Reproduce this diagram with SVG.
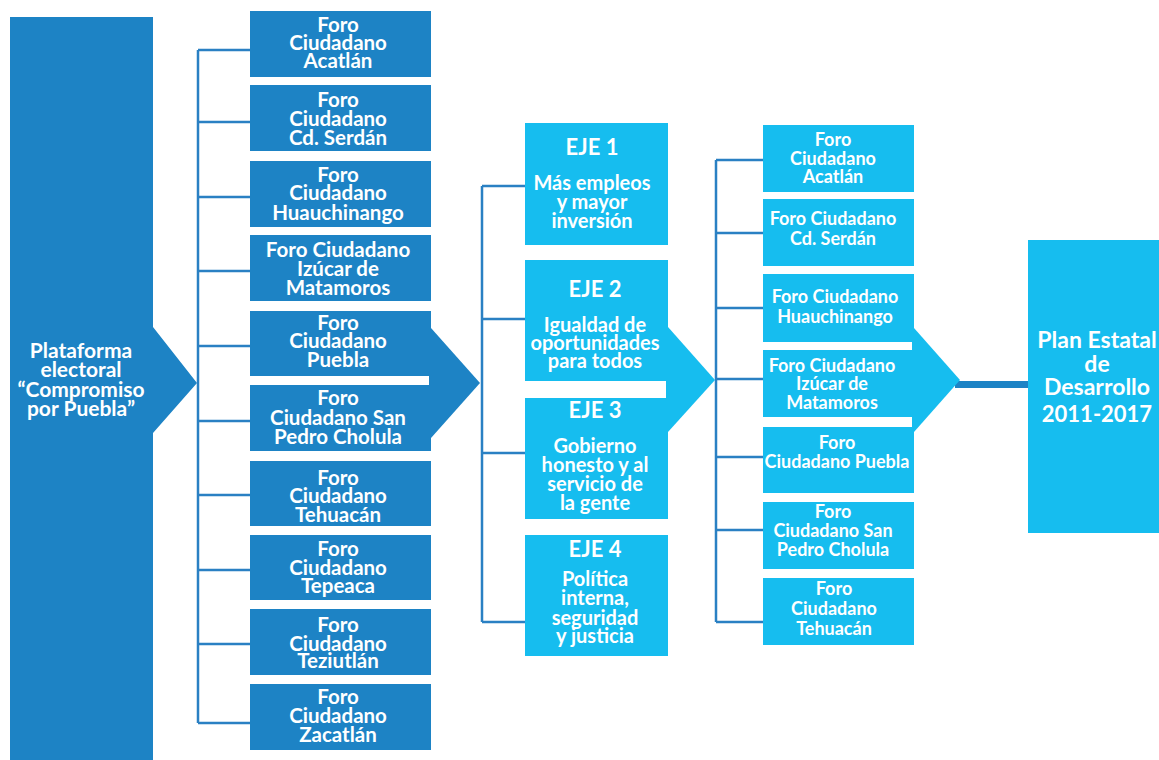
<svg xmlns="http://www.w3.org/2000/svg" width="1159" height="760" viewBox="0 0 1159 760">
<style>
.dk{fill:#1d83c5}
.lt{fill:#16bdef}
.t{font-family:Lato,"Liberation Sans",sans-serif;font-weight:bold;fill:#fff;text-anchor:middle}
.s20{font-size:20.5px}
.s21{font-size:21px}
.s18{font-size:18px}
.e20{font-size:20px}
.s22{font-size:22px}
.s23{font-size:23px}
.c{fill:none;stroke:#2a80c3;stroke-width:2.5}
</style>
<rect width="1159" height="760" fill="#fff"/>
<g id="connectors">
<path class="c" d="M198,50V723M198,50H250M198,122H250M198,197H250M198,271H250M198,346H250M198,421H250M198,495H250M198,570H250M198,644H250M198,723H250"/>
<path class="c" d="M482,186V622M482,186H525M482,319H525M482,453H525M482,622H525"/>
<path class="c" d="M716,160V622M716,160H763M716,233H763M716,308H763M716,379H763M716,457H763M716,530H763M716,622H763"/>
<rect x="955" y="381" width="73" height="7" fill="#1d83c5"/>
</g>
<g id="plataforma">
<path class="dk" d="M10,17H153V327L197,383L153,433V760H10Z"/>
<text class="t s21" x="81" y="358">Plataforma</text>
<text class="t s21" x="81" y="377">electoral</text>
<text class="t s21" x="81" y="397">“Compromiso</text>
<text class="t s21" x="81" y="416">por Puebla”</text>
</g>
<g id="col1-arrow"><polygon class="dk" points="429,328 431,328 480,383 431,438 429,438"/></g>
<g id="f1-acatlan"><rect class="dk" x="250" y="11" width="181" height="66"/>
<text class="t s20" x="338" y="32">Foro</text><text class="t s20" x="338" y="50">Ciudadano</text><text class="t s20" x="338" y="68">Acatlán</text></g>
<g id="f1-serdan"><rect class="dk" x="250" y="85" width="181" height="66"/>
<text class="t s20" x="338" y="107">Foro</text><text class="t s20" x="338" y="126">Ciudadano</text><text class="t s20" x="338" y="145">Cd. Serdán</text></g>
<g id="f1-huauchinango"><rect class="dk" x="250" y="161" width="181" height="66"/>
<text class="t s20" x="338" y="182">Foro</text><text class="t s20" x="338" y="200">Ciudadano</text><text class="t s20" x="338" y="220">Huauchinango</text></g>
<g id="f1-izucar"><rect class="dk" x="250" y="235" width="181" height="66"/>
<text class="t s20" x="338" y="257">Foro Ciudadano</text><text class="t s20" x="338" y="276">Izúcar de</text><text class="t s20" x="338" y="295">Matamoros</text></g>
<g id="f1-puebla"><rect class="dk" x="250" y="311" width="181" height="65"/>
<text class="t s20" x="338" y="330">Foro</text><text class="t s20" x="338" y="348">Ciudadano</text><text class="t s20" x="338" y="367">Puebla</text></g>
<g id="f1-cholula"><rect class="dk" x="250" y="385" width="181" height="66"/>
<text class="t s20" x="338" y="405">Foro</text><text class="t s20" x="338" y="425">Ciudadano San</text><text class="t s20" x="338" y="444">Pedro Cholula</text></g>
<g id="f1-tehuacan"><rect class="dk" x="250" y="461" width="181" height="65"/>
<text class="t s20" x="338" y="485">Foro</text><text class="t s20" x="338" y="503">Ciudadano</text><text class="t s20" x="338" y="522">Tehuacán</text></g>
<g id="f1-tepeaca"><rect class="dk" x="250" y="535" width="181" height="65"/>
<text class="t s20" x="338" y="556">Foro</text><text class="t s20" x="338" y="575">Ciudadano</text><text class="t s20" x="338" y="593">Tepeaca</text></g>
<g id="f1-teziutlan"><rect class="dk" x="250" y="609" width="181" height="66"/>
<text class="t s20" x="338" y="632">Foro</text><text class="t s20" x="338" y="651">Ciudadano</text><text class="t s20" x="338" y="668">Teziutlán</text></g>
<g id="f1-zacatlan"><rect class="dk" x="250" y="684" width="181" height="66"/>
<text class="t s20" x="338" y="704">Foro</text><text class="t s20" x="338" y="723">Ciudadano</text><text class="t s20" x="338" y="742">Zacatlán</text></g>
<g id="eje-arrow"><polygon class="lt" points="666,327 668,327 715,380 668,432 666,432"/></g>
<g id="eje1"><rect class="lt" x="525" y="123" width="143" height="122"/>
<text class="t s22" x="592" y="155">EJE 1</text>
<text class="t e20" x="592" y="190">Más empleos</text><text class="t e20" x="592" y="209">y mayor</text><text class="t e20" x="592" y="228">inversión</text></g>
<g id="eje2"><rect class="lt" x="525" y="260" width="143" height="121"/>
<text class="t s22" x="595" y="297">EJE 2</text>
<text class="t e20" x="595" y="332">Igualdad de</text><text class="t e20" x="595" y="350">oportunidades</text><text class="t e20" x="595" y="368">para todos</text></g>
<g id="eje3"><rect class="lt" x="525" y="398" width="143" height="121"/>
<text class="t s22" x="595" y="418">EJE 3</text>
<text class="t e20" x="595" y="453">Gobierno</text><text class="t e20" x="595" y="472">honesto y al</text><text class="t e20" x="595" y="491">servicio de</text><text class="t e20" x="595" y="510">la gente</text></g>
<g id="eje4"><rect class="lt" x="525" y="535" width="143" height="121"/>
<text class="t s22" x="595" y="557">EJE 4</text>
<text class="t e20" x="595" y="586">Política</text><text class="t e20" x="595" y="605">interna,</text><text class="t e20" x="595" y="625">seguridad</text><text class="t e20" x="595" y="643">y justicia</text></g>
<g id="col3-arrow"><polygon class="lt" points="912,328 914,328 960,380 914,432 912,432"/></g>
<g id="f3-acatlan"><rect class="lt" x="763" y="125" width="151" height="67"/>
<text class="t s18" x="833" y="146">Foro</text><text class="t s18" x="833" y="165">Ciudadano</text><text class="t s18" x="833" y="183">Acatlán</text></g>
<g id="f3-serdan"><rect class="lt" x="763" y="199" width="151" height="67"/>
<text class="t s18" x="833" y="225">Foro Ciudadano</text><text class="t s18" x="833" y="245">Cd. Serdán</text></g>
<g id="f3-huauchinango"><rect class="lt" x="763" y="274" width="151" height="68"/>
<text class="t s18" x="835" y="303">Foro Ciudadano</text><text class="t s18" x="835" y="323">Huauchinango</text></g>
<g id="f3-izucar"><rect class="lt" x="763" y="350" width="151" height="67"/>
<text class="t s18" x="832" y="372">Foro Ciudadano</text><text class="t s18" x="832" y="390">Izúcar de</text><text class="t s18" x="832" y="409">Matamoros</text></g>
<g id="f3-puebla"><rect class="lt" x="763" y="427" width="151" height="66"/>
<text class="t s18" x="837" y="449">Foro</text><text class="t s18" x="837" y="468">Ciudadano Puebla</text></g>
<g id="f3-cholula"><rect class="lt" x="763" y="502" width="151" height="67"/>
<text class="t s18" x="833" y="518">Foro</text><text class="t s18" x="833" y="537">Ciudadano San</text><text class="t s18" x="833" y="556">Pedro Cholula</text></g>
<g id="f3-tehuacan"><rect class="lt" x="763" y="578" width="151" height="67"/>
<text class="t s18" x="834" y="595">Foro</text><text class="t s18" x="834" y="615">Ciudadano</text><text class="t s18" x="834" y="635">Tehuacán</text></g>
<g id="plan"><rect class="lt" x="1028" y="240" width="131" height="293"/>
<text class="t s23" x="1097" y="348">Plan Estatal</text><text class="t s23" x="1097" y="372">de</text><text class="t s23" x="1097" y="395">Desarrollo</text><text class="t s22" x="1097" y="422">2011-2017</text></g>
</svg>
